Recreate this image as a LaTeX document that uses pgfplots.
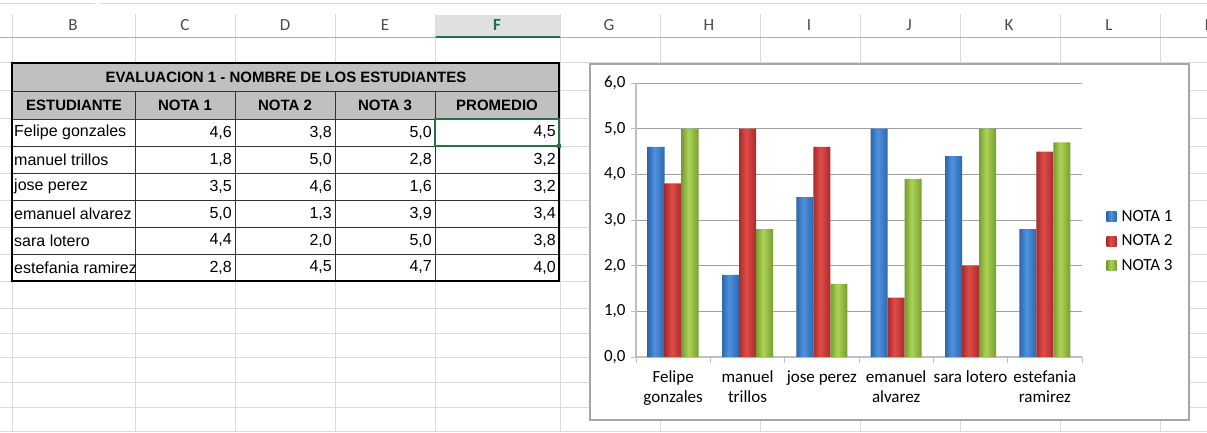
\documentclass[border=0pt]{standalone}
\usepackage{pgfplots}
\pgfplotsset{compat=1.18}
\usepackage{fontspec}
\setmainfont{Carlito}
\newfontfamily\arial{Liberation Sans}
\definecolor{gridc}{HTML}{DADADA}
\definecolor{hdrline}{HTML}{ABABAB}
\definecolor{xlgreen}{HTML}{217346}
\definecolor{hdrfill}{HTML}{C0C0C0}
\definecolor{axgray}{HTML}{BFBFBF}
\definecolor{grdgray}{HTML}{A0A0A0}
\definecolor{frame}{HTML}{A6A6A6}
\definecolor{bD}{HTML}{2E66AC}\definecolor{bL}{HTML}{4F92E0}
\definecolor{rD}{HTML}{A82C29}\definecolor{rL}{HTML}{E04C48}
\definecolor{gD}{HTML}{789C32}\definecolor{gL}{HTML}{ACD455}
% one dark-light-dark band per bar of a series (bars sit at fixed places in the path's bounding box)
\newcommand\barshading[3]{\pgfdeclarehorizontalshading{#1}{100bp}{%
 color(0bp)=(#2); color(25bp)=(#2); color(25.9bp)=(#3); color(27.187bp)=(#2);
 color(34.563bp)=(#2); color(35.46bp)=(#3); color(36.75bp)=(#2);
 color(44.125bp)=(#2); color(45.02bp)=(#3); color(46.312bp)=(#2);
 color(53.688bp)=(#2); color(54.58bp)=(#3); color(55.875bp)=(#2);
 color(63.25bp)=(#2); color(64.14bp)=(#3); color(65.437bp)=(#2);
 color(72.813bp)=(#2); color(73.7bp)=(#3); color(75bp)=(#2); color(100bp)=(#2)}}
\newcommand\legshading[3]{\pgfdeclarehorizontalshading{#1}{100bp}{%
 color(0bp)=(#2); color(25bp)=(#2); color(45bp)=(#3); color(75bp)=(#2); color(100bp)=(#2)}}
\barshading{sblue}{bD}{bL}\barshading{sred}{rD}{rL}\barshading{sgreen}{gD}{gL}
\legshading{lblue}{bD}{bL}\legshading{lred}{rD}{rL}\legshading{lgreen}{gD}{gL}
\begin{document}
\begin{tikzpicture}[x=1pt,y=1pt]
\clip (0,0) rectangle (1207,432);
\fill[white] (0,0) rectangle (1207,432);
% formula bar remnant
\draw[gridc, line width=1pt] (0,{432-4}) -- (95,{432-4});
\draw[gridc, line width=1pt] (100,{432-4}) -- (1207,{432-4});
% spreadsheet grid
\foreach \x in {12,135,235,335,435,560,660,760,860,960,1060,1160}
  \draw[gridc, line width=1pt] (\x,0) -- (\x,{432-14});
\foreach \py in {63,91,119,146,173,200,227,254,281,308,333,357,382,407,431}
  \draw[gridc, line width=1pt] (0,{432-\py}) -- (1207,{432-\py});
% column header band
\fill[white] (0,{432-15}) rectangle (1207,{432-38});
\foreach \x in {12,135,235,335,435,560,660,760,860,960,1060,1160}
  \draw[gridc, line width=1pt] (\x,{432-15}) -- (\x,{432-38});
\fill[black!12] (436,{432-15}) rectangle (560,{432-38});
\draw[hdrline, line width=1pt] (0,{432-38}) -- (1207,{432-38});
\draw[xlgreen, line width=2pt] (436,{432-37}) -- (560,{432-37});
\foreach \x/\l in {73/B,185/C,285/D,385/E,609/G,709/H,809/I,909/J,1009/K,1109/L,1212/M}
  \node[text=black!70, font=\fontsize{17}{20}\selectfont] at (\x,{432-25}) {\l};
\node[text=xlgreen, font=\fontsize{17}{20}\selectfont\bfseries] at (497,{432-25}) {F};
% table
\fill[hdrfill] (12,{432-63}) rectangle (559,{432-119});
\fill[white] (12,{432-119}) rectangle (559,{432-281});
\foreach \py in {91,119,146,173,200,227,254}
  \draw[black!80, line width=0.8pt] (12,{432-\py}) -- (559,{432-\py});
\foreach \x in {135,235,335,435}
  \draw[black!80, line width=0.8pt] (\x,{432-91}) -- (\x,{432-281});
\draw[black, line width=1.6pt] (12,{432-63}) rectangle (559,{432-281});
\draw[xlgreen, line width=1.5pt] (435,{432-119}) rectangle (559,{432-146});
\fill[xlgreen] (557,{432-148}) rectangle (561,{432-144});
\node[font=\arial\fontsize{15}{18}\selectfont\bfseries] at (286,{432-77}) {EVALUACION 1 - NOMBRE DE LOS ESTUDIANTES};
\foreach \x/\l in {74/ESTUDIANTE,185/NOTA 1,285/NOTA 2,385/NOTA 3,497/PROMEDIO}
  \node[font=\arial\fontsize{15}{18}\selectfont\bfseries] at (\x,{432-105}) {\l};
\tikzset{nm/.style={anchor=west, inner sep=0pt, font=\arial\fontsize{16}{19}\selectfont},
         nu/.style={anchor=east, inner sep=0pt, font=\arial\fontsize{16}{19}\selectfont}}
\node[nm] at (14,{432-132.5}) {Felipe gonzales};
\node[nu] at (232,{432-132.5}) {4,6};\node[nu] at (332,{432-132.5}) {3,8};
\node[nu] at (432,{432-132.5}) {5,0};\node[nu] at (556,{432-132.5}) {4,5};
\node[nm] at (14,{432-159.5}) {manuel trillos};
\node[nu] at (232,{432-159.5}) {1,8};\node[nu] at (332,{432-159.5}) {5,0};
\node[nu] at (432,{432-159.5}) {2,8};\node[nu] at (556,{432-159.5}) {3,2};
\node[nm] at (14,{432-186.5}) {jose perez};
\node[nu] at (232,{432-186.5}) {3,5};\node[nu] at (332,{432-186.5}) {4,6};
\node[nu] at (432,{432-186.5}) {1,6};\node[nu] at (556,{432-186.5}) {3,2};
\node[nm] at (14,{432-213.5}) {emanuel alvarez};
\node[nu] at (232,{432-213.5}) {5,0};\node[nu] at (332,{432-213.5}) {1,3};
\node[nu] at (432,{432-213.5}) {3,9};\node[nu] at (556,{432-213.5}) {3,4};
\node[nm] at (14,{432-240.5}) {sara lotero};
\node[nu] at (232,{432-240.5}) {4,4};\node[nu] at (332,{432-240.5}) {2,0};
\node[nu] at (432,{432-240.5}) {5,0};\node[nu] at (556,{432-240.5}) {3,8};
\node[nm] at (14,{432-267.5}) {estefania ramirez};
\node[nu] at (232,{432-267.5}) {2,8};\node[nu] at (332,{432-267.5}) {4,5};
\node[nu] at (432,{432-267.5}) {4,7};\node[nu] at (556,{432-267.5}) {4,0};
% chart frame
\draw[frame, fill=white, line width=1.3pt] (590,{432-64}) rectangle (1189,{432-420});
\begin{axis}[
  at={(636pt,75pt)}, anchor=south west,
  scale only axis, width=446pt, height=274pt,
  xmin=-0.5, xmax=5.5, ymin=0, ymax=6,
  ybar=0pt, bar width=17pt,
  axis x line*=bottom, axis y line*=left,
  axis line style={axgray, line width=1.5pt, -},
  ytick={0,1,2,3,4,5,6},
  ymajorgrids, grid style={grdgray, line width=0.9pt},
  /pgf/number format/assume math mode=true,
  yticklabel={\pgfmathprintnumber[fixed,fixed zerofill,precision=1,use comma]{\tick}},
  tick align=outside, major tick length=5pt,
  y tick style={axgray, line width=1pt},
  xtick={0,1,2,3,4,5},
  x tick style={draw=none},
  xticklabels={{Felipe\\gonzales},{manuel\\trillos},{jose perez},{emanuel\\alvarez},{sara lotero},{estefania\\ramirez}},
  extra x ticks={-0.5,0.5,1.5,2.5,3.5,4.5,5.5},
  extra x tick labels={},
  extra x tick style={x tick style={draw=axgray, line width=1pt}, major tick length=6pt, grid=none},
  tick label style={font=\fontsize{17}{20}\selectfont},
  xticklabel style={align=center, yshift=-5pt},
  yticklabel style={xshift=-2pt},
  legend style={at={(1.055,0.423)}, anchor=west, draw=none, fill=none,
    font=\fontsize{17}{19}\selectfont, row sep=8pt, inner sep=0pt},
  legend cell align=left,
]
\addplot[draw=none, shade, shading=sblue,
  legend image code/.code={\path[shade, shading=lblue] (0pt,-5pt) rectangle (10pt,5pt);}]
  coordinates {(0,4.6) (1,1.8) (2,3.5) (3,5.0) (4,4.4) (5,2.8)};
\addplot[draw=none, shade, shading=sred,
  legend image code/.code={\path[shade, shading=lred] (0pt,-5pt) rectangle (10pt,5pt);}]
  coordinates {(0,3.8) (1,5.0) (2,4.6) (3,1.3) (4,2.0) (5,4.5)};
\addplot[draw=none, shade, shading=sgreen,
  legend image code/.code={\path[shade, shading=lgreen] (0pt,-5pt) rectangle (10pt,5pt);}]
  coordinates {(0,5.0) (1,2.8) (2,1.6) (3,3.9) (4,5.0) (5,4.7)};
\legend{\,NOTA 1,\,NOTA 2,\,NOTA 3}
\end{axis}
\end{tikzpicture}
\end{document}
